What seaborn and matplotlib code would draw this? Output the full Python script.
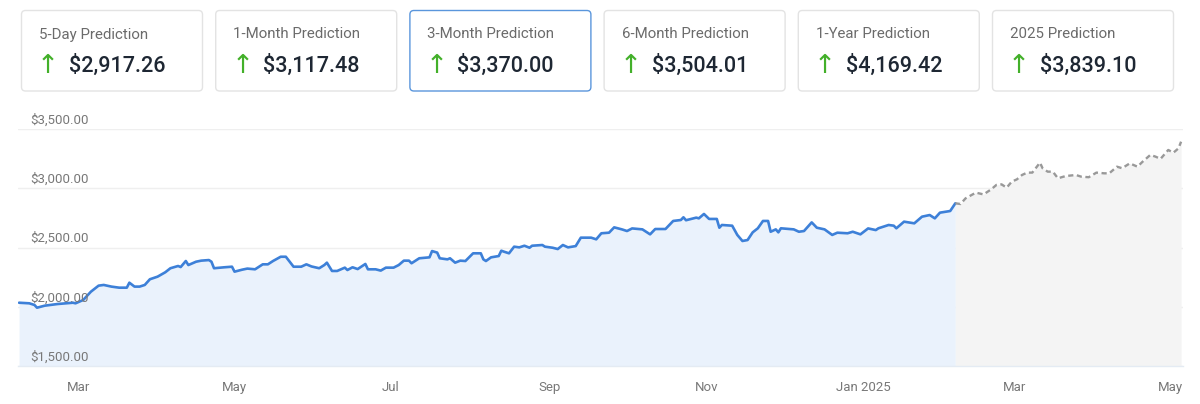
import matplotlib
matplotlib.use("Agg")
import matplotlib.pyplot as plt
import matplotlib.transforms as mtransforms
from matplotlib.patches import FancyBboxPatch
import seaborn as sns
import pandas as pd

# --- data ---
CARD_TITLES = ["5-Day Prediction", "1-Month Prediction", "3-Month Prediction",
               "6-Month Prediction", "1-Year Prediction", "2025 Prediction"]
CARD_VALUES = ["$2,917.26", "$3,117.48", "$3,370.00", "$3,504.01", "$4,169.42", "$3,839.10"]
HIGHLIGHT = 2

HIST_DATES = [
    "2024-02-07", "2024-02-11", "2024-02-13", "2024-02-14", "2024-02-17", "2024-02-22",
    "2024-02-28", "2024-02-29", "2024-03-03", "2024-03-06", "2024-03-09", "2024-03-11",
    "2024-03-14", "2024-03-17", "2024-03-20", "2024-03-21", "2024-03-23", "2024-03-25",
    "2024-03-27", "2024-03-29", "2024-04-01", "2024-04-04", "2024-04-06", "2024-04-09",
    "2024-04-10", "2024-04-12", "2024-04-13", "2024-04-16", "2024-04-18", "2024-04-21",
    "2024-04-22", "2024-04-23", "2024-04-27", "2024-04-30", "2024-05-01", "2024-05-04",
    "2024-05-06", "2024-05-09", "2024-05-12", "2024-05-14", "2024-05-16", "2024-05-19",
    "2024-05-21", "2024-05-22", "2024-05-24", "2024-05-27", "2024-05-29", "2024-05-31",
    "2024-06-03", "2024-06-05", "2024-06-06", "2024-06-08", "2024-06-10", "2024-06-13",
    "2024-06-14", "2024-06-16", "2024-06-18", "2024-06-21", "2024-06-22", "2024-06-25",
    "2024-06-27", "2024-06-29", "2024-07-02", "2024-07-04", "2024-07-06", "2024-07-08",
    "2024-07-09", "2024-07-12", "2024-07-16", "2024-07-17", "2024-07-19", "2024-07-20",
    "2024-07-23", "2024-07-24", "2024-07-26", "2024-07-28", "2024-07-30", "2024-08-02",
    "2024-08-05", "2024-08-06", "2024-08-07", "2024-08-09", "2024-08-12", "2024-08-13",
    "2024-08-14", "2024-08-16", "2024-08-18", "2024-08-20", "2024-08-22", "2024-08-24",
    "2024-08-25", "2024-08-29", "2024-08-30", "2024-09-02", "2024-09-04", "2024-09-06",
    "2024-09-08", "2024-09-11", "2024-09-13", "2024-09-17", "2024-09-19", "2024-09-21",
    "2024-09-24", "2024-09-26", "2024-09-29", "2024-10-01", "2024-10-03", "2024-10-07",
    "2024-10-10", "2024-10-12", "2024-10-16", "2024-10-19", "2024-10-22", "2024-10-23",
    "2024-10-24", "2024-10-28", "2024-10-29", "2024-10-31", "2024-11-02", "2024-11-05",
    "2024-11-06", "2024-11-07", "2024-11-11", "2024-11-13", "2024-11-15", "2024-11-17",
    "2024-11-19", "2024-11-21", "2024-11-23", "2024-11-25", "2024-11-26", "2024-11-28",
    "2024-11-29", "2024-11-30", "2024-12-05", "2024-12-07", "2024-12-09", "2024-12-12",
    "2024-12-14", "2024-12-17", "2024-12-20", "2024-12-22", "2024-12-26", "2024-12-28",
    "2024-12-31", "2025-01-03", "2025-01-06", "2025-01-07", "2025-01-11", "2025-01-13",
    "2025-01-14", "2025-01-17", "2025-01-21", "2025-01-24", "2025-01-27", "2025-01-29",
    "2025-01-31", "2025-02-04", "2025-02-06",
]
HIST_PRICES = [
    2034, 2029, 2015, 1992, 2009, 2023,
    2034, 2029, 2057, 2127, 2178, 2184,
    2170, 2161, 2161, 2203, 2170, 2170,
    2184, 2232, 2254, 2291, 2325, 2344,
    2335, 2386, 2352, 2380, 2389, 2394,
    2380, 2325, 2333, 2338, 2296, 2313,
    2322, 2316, 2358, 2358, 2386, 2422,
    2422, 2394, 2338, 2338, 2358, 2340,
    2325, 2352, 2372, 2302, 2302, 2330,
    2310, 2333, 2318, 2361, 2316, 2316,
    2305, 2330, 2330, 2352, 2389, 2389,
    2367, 2409, 2417, 2470, 2457, 2409,
    2400, 2409, 2372, 2389, 2386, 2451,
    2451, 2400, 2386, 2417, 2428, 2473,
    2465, 2451, 2507, 2501, 2515, 2498,
    2515, 2521, 2507, 2498, 2487, 2521,
    2501, 2512, 2583, 2583, 2569, 2620,
    2625, 2670, 2653, 2639, 2661, 2653,
    2611, 2656, 2656, 2724, 2732, 2755,
    2730, 2752, 2746, 2783, 2741, 2741,
    2667, 2690, 2684, 2606, 2555, 2563,
    2628, 2662, 2724, 2724, 2633, 2653,
    2628, 2662, 2653, 2633, 2639, 2712,
    2667, 2653, 2606, 2625, 2620, 2633,
    2611, 2661, 2647, 2662, 2690, 2684,
    2662, 2718, 2704, 2760, 2774, 2746,
    2794, 2808, 2873,
]

FC_DATES = [
    "2025-02-08", "2025-02-10", "2025-02-14", "2025-02-17", "2025-02-20", "2025-02-22",
    "2025-02-24", "2025-02-26", "2025-02-28", "2025-03-02", "2025-03-04", "2025-03-06",
    "2025-03-08", "2025-03-09", "2025-03-11", "2025-03-12", "2025-03-14", "2025-03-16",
    "2025-03-18", "2025-03-21", "2025-03-25", "2025-03-27", "2025-03-30", "2025-04-02",
    "2025-04-05", "2025-04-07", "2025-04-10", "2025-04-12", "2025-04-15", "2025-04-18",
    "2025-04-20", "2025-04-23", "2025-04-25", "2025-04-27", "2025-04-30", "2025-05-02",
    "2025-05-04", "2025-05-05",
]
FC_PRICES = [
    2867, 2915, 2963, 2948, 2991, 3028,
    3033, 3005, 3056, 3075, 3112, 3132,
    3132, 3160, 3216, 3169, 3140, 3140,
    3084, 3103, 3112, 3098, 3093, 3132,
    3126, 3126, 3182, 3169, 3210, 3182,
    3224, 3281, 3267, 3248, 3323, 3300,
    3337, 3393,
]

Y_TICKS = [1500, 2000, 2500, 3000, 3500]
X_TICKS = ["2024-03-01", "2024-05-01", "2024-07-01", "2024-09-01",
           "2024-11-01", "2025-01-01", "2025-03-01", "2025-05-01"]
X_LABELS = ["Mar", "May", "Jul", "Sep", "Nov", "Jan 2025", "Mar", "May"]

# --- style ---
sns.set_theme(style="white")
plt.rcParams["font.family"] = ["Roboto", "DejaVu Sans"]

BLUE = "#3d80d8"
BLUE_FILL = "#eaf2fc"
GREY_LINE = "#999999"
GREY_FILL = "#f4f4f4"
LABEL = "#787878"

W, H = 1200, 404
fig = plt.figure(figsize=(W / 100, H / 100), dpi=100)
fig.patch.set_facecolor("white")

hist = pd.DataFrame({"date": pd.to_datetime(HIST_DATES), "price": HIST_PRICES})
fc = pd.DataFrame({"date": pd.to_datetime(FC_DATES), "price": FC_PRICES})
fc = pd.concat([hist.tail(1), fc], ignore_index=True)  # forecast starts at last close

# chart area in pixels: x 18..1183, y 129..366
ax = fig.add_axes([18 / W, (H - 366) / H, (1183 - 18) / W, (366 - 129) / H])
ax.set_facecolor("white")

ax.fill_between(hist["date"], Y_TICKS[0], hist["price"], color=BLUE_FILL, lw=0, zorder=1)
ax.fill_between(fc["date"], Y_TICKS[0], fc["price"], color=GREY_FILL, lw=0, zorder=1)
sns.lineplot(data=hist, x="date", y="price", ax=ax, color=BLUE, linewidth=1.9, zorder=3)
sns.lineplot(data=fc, x="date", y="price", ax=ax, color=GREY_LINE, linewidth=1.7,
             linestyle=(0, (2.2, 1.5)), zorder=3)

ax.set_xlim(hist["date"].iloc[0] - pd.Timedelta(hours=10), fc["date"].iloc[-1] + pd.Timedelta(hours=18))
ax.set_ylim(Y_TICKS[0], Y_TICKS[-1])
ax.set_yticks(Y_TICKS)
ax.set_yticklabels([])
ax.yaxis.grid(True, color="#efefef", linewidth=1, zorder=0)
ax.set_axisbelow(True)
ax.tick_params(axis="y", length=0)

ax.set_xticks(pd.to_datetime(X_TICKS))
ax.set_xticklabels(X_LABELS, color=LABEL, fontsize=9.5)
ax.tick_params(axis="x", length=0, pad=11)
ax.set_xlabel("")
ax.set_ylabel("")
for side in ["top", "left", "right"]:
    ax.spines[side].set_visible(False)
ax.spines["bottom"].set_color("#e4ebf3")
ax.spines["bottom"].set_linewidth(1)

# y labels sit inside the plot, just above their grid line
lab_tf = mtransforms.offset_copy(ax.get_yaxis_transform(), fig=fig, x=0, y=9, units="dots")
for v in Y_TICKS:
    ax.text(0.0107, v, f"${v:,.2f}", transform=lab_tf, ha="left", va="center",
            fontsize=9.5, color=LABEL, zorder=4)

# --- prediction cards along the top ---
cards = fig.add_axes([0, 1 - 100 / H, 1, 100 / H])
cards.set_xlim(0, W)
cards.set_ylim(100, 0)
cards.axis("off")

for i, (title, value) in enumerate(zip(CARD_TITLES, CARD_VALUES)):
    left = 21.5 + 194.2 * i
    edge = "#5a96dc" if i == HIGHLIGHT else "#e3e3e3"
    cards.add_patch(FancyBboxPatch((left, 10.5), 181, 80.5,
                                   boxstyle="round,pad=0,rounding_size=4",
                                   facecolor="white", edgecolor=edge, linewidth=1))
    cards.text(left + 17.5, 34.5, title, ha="left", va="center", fontsize=10.8, color="#6b6b6b")
    cards.text(left + 26.5, 66, "\u2191", ha="center", va="center", fontsize=19,
               color="#43b02a", family=["DejaVu Sans"])
    cards.text(left + 47.5, 66, value, ha="left", va="center", fontsize=15.5,
               color="#1e2733", fontweight="medium")

fig.savefig("out.png", dpi=100, facecolor="white")
